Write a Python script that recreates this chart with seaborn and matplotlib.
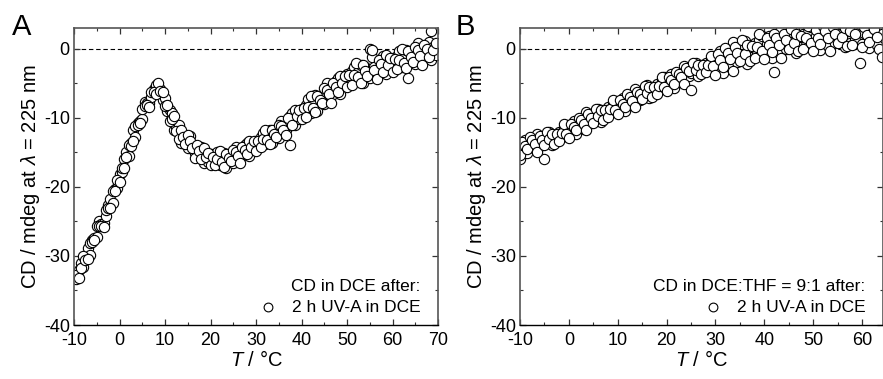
import matplotlib
matplotlib.use("Agg")
import matplotlib.pyplot as plt
from matplotlib.ticker import MultipleLocator
import seaborn as sns

# panel A: CD in DCE, temperature grid and two overlapping runs
temp_a = [
    -9.5, -9.0, -8.5, -8.0, -7.5, -7.0, -6.5, -6.0, -5.5, -5.0,
    -4.5, -4.0, -3.5, -3.0, -2.5, -2.0, -1.5, -1.0, -0.5, 0.0,
    0.5, 1.0, 1.5, 2.0, 2.5, 3.0, 3.5, 4.0, 4.5, 5.0,
    5.5, 6.0, 6.5, 7.0, 7.5, 8.0, 8.5, 9.0, 9.5, 10.0,
    10.5, 11.0, 11.5, 12.0, 12.5, 13.0, 13.5, 14.0, 14.5, 15.0,
    15.5, 16.0, 16.5, 17.0, 17.5, 18.0, 18.5, 19.0, 19.5, 20.0,
    20.5, 21.0, 21.5, 22.0, 22.5, 23.0, 23.5, 24.0, 24.5, 25.0,
    25.5, 26.0, 26.5, 27.0, 27.5, 28.0, 28.5, 29.0, 29.5, 30.0,
    30.5, 31.0, 31.5, 32.0, 32.5, 33.0, 33.5, 34.0, 34.5, 35.0,
    35.5, 36.0, 36.5, 37.0, 37.5, 38.0, 38.5, 39.0, 39.5, 40.0,
    40.5, 41.0, 41.5, 42.0, 42.5, 43.0, 43.5, 44.0, 44.5, 45.0,
    45.5, 46.0, 46.5, 47.0, 47.5, 48.0, 48.5, 49.0, 49.5, 50.0,
    50.5, 51.0, 51.5, 52.0, 52.5, 53.0, 53.5, 54.0, 54.5, 55.0,
    55.5, 56.0, 56.5, 57.0, 57.5, 58.0, 58.5, 59.0, 59.5, 60.0,
    60.5, 61.0, 61.5, 62.0, 62.5, 63.0, 63.5, 64.0, 64.5, 65.0,
    65.5, 66.0, 66.5, 67.0, 67.5, 68.0, 68.5, 69.0, 69.5,
]
cd_a_run1 = [
    -32.8, -33.2, -31.7, -30.0, -30.6, -30.4, -28.2, -28.0, -27.7, -25.7,
    -25.6, -25.7, -25.8, -23.4, -23.0, -23.1, -20.6, -20.6, -19.0, -19.3,
    -17.3, -17.2, -15.7, -14.0, -14.1, -13.4, -11.2, -11.0, -10.7, -8.7,
    -8.3, -8.2, -8.4, -6.2, -6.2, -6.6, -4.9, -6.1, -6.3, -8.3,
    -8.2, -10.4, -10.2, -9.8, -11.9, -13.1, -11.7, -12.8, -13.8, -12.5,
    -13.4, -14.4, -15.8, -14.0, -14.8, -16.0, -14.4, -15.7, -15.1, -16.8,
    -15.7, -16.9, -15.9, -14.8, -16.4, -17.1, -15.3, -15.8, -16.3, -14.6,
    -15.0, -15.6, -16.5, -14.2, -14.6, -15.3, -13.3, -14.3, -13.4, -14.8,
    -13.3, -14.3, -13.1, -11.8, -13.2, -13.8, -11.8, -12.4, -12.8, -11.0,
    -11.2, -11.7, -12.5, -10.1, -13.9, -11.0, -8.9, -9.8, -8.9, -10.2,
    -8.6, -9.9, -8.4, -6.9, -8.6, -9.1, -6.8, -7.4, -7.8, -5.7,
    -6.0, -6.6, -7.8, -4.9, -5.5, -6.3, -3.9, -5.0, -3.9, -5.5,
    -3.8, -5.2, -3.8, -2.1, -4.1, -4.9, -2.4, -3.2, -3.9, -0.1,
    -0.2, -3.1, -4.4, -1.6, -2.2, -3.3, -0.9, -2.3, -1.3, -3.3,
    -1.5, -3.0, -1.6, 0.0, -2.0, -2.8, -0.4, -1.2, -1.9, 0.3,
    -0.2, -1.1, -2.3, 0.5, -0.1, -1.2, 2.6, -0.2, 0.8,
]
cd_a_run2 = [
    -33.4, -32.0, -31.0, -31.6, -30.1, -28.8, -29.8, -27.7, -27.4, -27.2,
    -25.0, -25.4, -25.3, -24.2, -22.6, -21.7, -22.4, -20.3, -20.1, -18.1,
    -17.9, -16.0, -15.0, -15.6, -13.6, -11.8, -12.8, -10.7, -10.4, -10.2,
    -7.7, -7.9, -7.9, -7.0, -5.8, -5.2, -6.3, -5.8, -7.4, -7.1,
    -9.0, -8.9, -9.3, -11.8, -11.3, -11.1, -13.6, -12.4, -13.5, -14.4,
    -12.6, -14.1, -15.1, -15.0, -14.2, -14.3, -16.6, -15.3, -16.4, -15.3,
    -16.5, -15.4, -15.0, -16.8, -15.8, -15.1, -17.2, -15.4, -16.0, -16.5,
    -14.2, -15.3, -15.8, -15.2, -14.0, -13.6, -15.5, -13.9, -14.7, -13.3,
    -14.1, -12.8, -12.2, -13.8, -12.6, -11.8, -13.7, -12.0, -12.5, -12.9,
    -10.4, -11.4, -11.8, -11.1, -9.8, -9.3, -11.1, -9.4, -10.2, -8.7,
    -9.6, -8.1, -7.3, -9.3, -7.9, -6.7, -9.0, -6.9, -7.5, -8.0,
    -5.0, -6.3, -6.9, -6.1, -4.7, -4.3, -6.5, -4.5, -5.4, -3.7,
    -4.9, -3.2, -2.6, -4.7, -3.3, -2.3, -4.9, -2.7, -3.5, -4.2,
    -1.2, -2.7, -3.5, -2.9, -1.5, -1.1, -3.7, -1.8, -3.0, -1.3,
    -2.6, -1.0, -0.4, -2.6, -1.2, -0.2, -4.2, -0.7, -1.5, -2.2,
    0.8, -0.7, -1.4, -0.8, 0.6, 1.0, -1.6, 0.3, -0.9,
]

# panel B: CD in DCE:THF = 9:1
temp_b = [
    -10.0, -9.5, -9.0, -8.5, -8.0, -7.5, -7.0, -6.5, -6.0, -5.5,
    -5.0, -4.5, -4.0, -3.5, -3.0, -2.5, -2.0, -1.5, -1.0, -0.5,
    0.0, 0.5, 1.0, 1.5, 2.0, 2.5, 3.0, 3.5, 4.0, 4.5,
    5.0, 5.5, 6.0, 6.5, 7.0, 7.5, 8.0, 8.5, 9.0, 9.5,
    10.0, 10.5, 11.0, 11.5, 12.0, 12.5, 13.0, 13.5, 14.0, 14.5,
    15.0, 15.5, 16.0, 16.5, 17.0, 17.5, 18.0, 18.5, 19.0, 19.5,
    20.0, 20.5, 21.0, 21.5, 22.0, 22.5, 23.0, 23.5, 24.0, 24.5,
    25.0, 25.5, 26.0, 26.5, 27.0, 27.5, 28.0, 28.5, 29.0, 29.5,
    30.0, 30.5, 31.0, 31.5, 32.0, 32.5, 33.0, 33.5, 34.0, 34.5,
    35.0, 35.5, 36.0, 36.5, 37.0, 37.5, 38.0, 38.5, 39.0, 39.5,
    40.0, 40.5, 41.0, 41.5, 42.0, 42.5, 43.0, 43.5, 44.0, 44.5,
    45.0, 45.5, 46.0, 46.5, 47.0, 47.5, 48.0, 48.5, 49.0, 49.5,
    50.0, 50.5, 51.0, 51.5, 52.0, 52.5, 53.0, 53.5, 54.0, 54.5,
    55.0, 55.5, 56.0, 56.5, 57.0, 57.5, 58.0, 58.5, 59.0, 59.5,
    60.0, 60.5, 61.0, 61.5, 62.0, 62.5, 63.0, 63.5, 64.0,
]
cd_b_run1 = [
    -15.4, -13.5, -14.1, -14.5, -12.8, -13.2, -13.8, -14.9, -12.7, -13.2,
    -13.9, -12.0, -13.1, -12.3, -13.8, -12.3, -13.4, -12.2, -10.9, -12.4,
    -12.9, -10.9, -11.4, -11.8, -10.0, -10.3, -10.9, -11.8, -9.5, -10.0,
    -10.7, -8.7, -9.8, -8.9, -10.3, -8.9, -9.9, -8.7, -7.4, -8.9,
    -9.4, -7.4, -8.0, -8.4, -6.6, -7.0, -7.5, -8.4, -6.2, -6.6,
    -7.3, -5.4, -6.4, -5.5, -7.0, -5.5, -6.5, -5.4, -4.1, -5.5,
    -6.1, -4.1, -4.6, -5.1, -3.3, -3.6, -4.1, -5.1, -2.8, -3.2,
    -6.0, -2.0, -3.1, -2.3, -3.7, -2.3, -3.4, -2.3, -1.0, -2.5,
    -3.8, -0.8, -1.7, -2.6, 0.1, -0.6, -1.5, -3.2, 0.3, -0.6,
    -1.8, 1.2, -0.7, 0.6, -1.8, 0.4, -1.4, 0.3, 2.1, -0.4,
    -1.5, 1.5, 0.5, -0.5, 2.2, 1.5, 0.5, -1.3, 2.2, 1.3,
    -0.1, 2.9, 0.9, 2.2, -0.4, 1.8, -0.1, 1.6, 3.3, 0.9,
    -0.3, 2.7, 1.6, 0.7, 3.3, 2.5, 1.5, -0.3, 3.1, 2.2,
    0.8, 3.7, 1.7, 3.0, 0.4, 2.5, 0.6, 2.2, 3.9, -2.0,
    0.2, 3.1, 2.0, 1.0, 3.6, 2.8, 1.7, -0.1, -1.2,
]
cd_b_run2 = [
    -15.9, -14.0, -13.2, -15.1, -13.4, -14.0, -14.5, -12.3, -13.4, -14.0,
    -16.0, -12.3, -12.0, -14.0, -12.5, -13.3, -12.0, -12.8, -11.5, -11.0,
    -12.6, -11.4, -10.5, -12.4, -10.6, -11.1, -11.6, -9.2, -10.2, -10.8,
    -10.2, -9.0, -8.7, -10.6, -9.0, -9.9, -8.5, -9.3, -8.0, -7.5,
    -9.1, -7.9, -7.1, -9.0, -7.2, -7.8, -8.2, -5.8, -6.9, -7.4,
    -6.8, -5.7, -5.3, -7.2, -5.7, -6.5, -5.1, -6.0, -4.7, -4.1,
    -5.8, -4.6, -3.7, -5.7, -3.9, -4.4, -4.8, -2.5, -3.5, -4.0,
    -3.5, -2.3, -2.0, -4.0, -2.4, -3.3, -2.0, -2.9, -1.6, -1.1,
    -3.3, -1.6, -0.3, -3.5, -0.9, -1.9, -2.6, 1.0, -0.8, -1.9,
    -1.0, 0.7, 1.1, -2.2, 0.3, -1.2, 0.8, -0.7, 1.2, 1.8,
    -1.0, 0.7, 1.9, -1.4, -3.3, 0.2, -0.6, 2.9, 1.1, 0.0,
    0.7, 2.4, 2.7, -0.6, 1.7, 0.2, 2.1, 0.6, 2.4, 3.1,
    0.2, 1.9, 3.0, -0.2, 2.3, 1.2, 0.4, 3.9, 2.0, 0.9,
    1.6, 3.2, 3.5, 0.2, 2.5, 0.9, 2.8, 1.2, 3.0, 3.6,
    0.7, 2.3, 3.4, 0.1, 2.6, 1.5, 0.6, 4.1, 2.2,
]

xticks_a = [-10, 0, 10, 20, 30, 40, 50, 60, 70]
xticks_b = [-10, 0, 10, 20, 30, 40, 50, 60]
yticks = [-40, -30, -20, -10, 0]
label_run = "2 h UV-A in DCE"
title_a = "CD in DCE after:"
title_b = "CD in DCE:THF = 9:1 after:"


def style_axes(ax, xlim, xticks):
    ax.set_xlim(*xlim)
    ax.set_ylim(-40, 3)
    ax.set_xticks(xticks)
    ax.set_yticks(yticks)
    ax.xaxis.set_minor_locator(MultipleLocator(5))
    ax.yaxis.set_minor_locator(MultipleLocator(5))
    ax.tick_params(which="both", direction="in", top=True, right=True,
                   labelsize=13, color="#333333", labelcolor="black")
    ax.tick_params(axis="x", pad=5)
    ax.tick_params(axis="y", pad=3)
    ax.tick_params(which="major", length=4.5, width=0.9)
    ax.tick_params(which="minor", length=2.5, width=0.8)
    for side in ["left", "top", "right"]:
        ax.spines[side].set_color("#555555")
        ax.spines[side].set_linewidth(1.2)
    ax.spines["bottom"].set_color("black")
    ax.spines["bottom"].set_linewidth(1.0)
    ax.axhline(0, color="black", lw=0.8, ls=(0, (4, 2.5)), zorder=0)
    ax.set_xlabel("$T$ / °C", fontsize=14.5, labelpad=1)
    ax.set_ylabel("CD / mdeg at $\\lambda$ = 225 nm", fontsize=14.5, labelpad=1)


def plot_panel(ax, temp, run1, run2, title):
    kw = dict(s=55, color="white", edgecolor="black", linewidth=0.8, marker="o", ax=ax)
    sns.scatterplot(x=temp, y=run2, **kw)
    sns.scatterplot(x=temp, y=run1, label=label_run, **kw)
    leg = ax.legend(loc="lower right", bbox_to_anchor=(1 - 7 / 364, 0),
                    frameon=False, title=title, fontsize=12.5,
                    title_fontsize=12.5, handletextpad=0.4, borderaxespad=0.4,
                    markerscale=0.85, borderpad=0.2, labelspacing=0.3)
    leg._legend_box.align = "right"


sns.set_style("ticks")
plt.rcParams["font.family"] = ["Liberation Sans", "DejaVu Sans"]
plt.rcParams["mathtext.fontset"] = "custom"
plt.rcParams["mathtext.it"] = "Liberation Sans:italic"
plt.rcParams["mathtext.rm"] = "Liberation Sans"
plt.rcParams["axes.unicode_minus"] = False
plt.rcParams["text.color"] = "black"
plt.rcParams["axes.labelcolor"] = "black"

fig = plt.figure(figsize=(8.83, 3.79), dpi=100)
ax_a = fig.add_axes([74 / 883, 54 / 379, 364 / 883, 297 / 379])
ax_b = fig.add_axes([520 / 883, 54 / 379, 363 / 883, 297 / 379])

plot_panel(ax_a, temp_a, cd_a_run1, cd_a_run2, title_a)
style_axes(ax_a, (-10, 70), xticks_a)
plot_panel(ax_b, temp_b, cd_b_run1, cd_b_run2, title_b)
style_axes(ax_b, (-10, 64.3), xticks_b)

fig.text(12 / 883, 1 - 13 / 379, "A", fontsize=21, va="top")
fig.text(456 / 883, 1 - 13 / 379, "B", fontsize=21, va="top")

fig.savefig("out.png", dpi=100)
